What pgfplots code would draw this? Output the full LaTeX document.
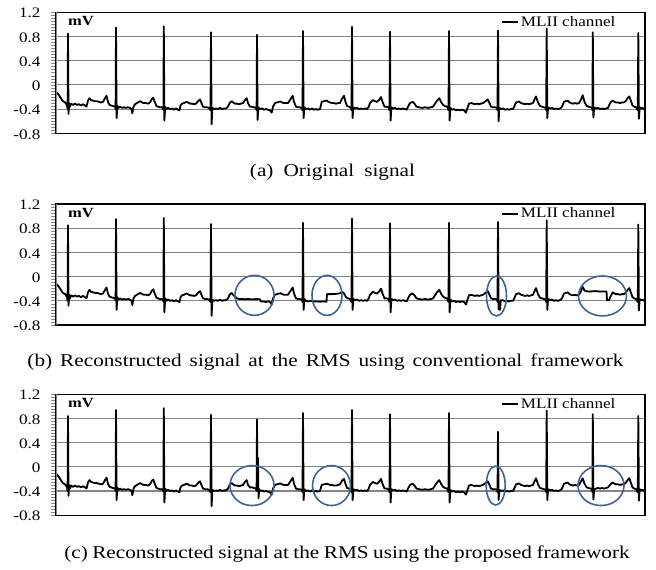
\documentclass[border=0pt]{standalone}
\usepackage{fontspec}
\setmainfont{Liberation Serif}[FakeStretch=1.18]
\usepackage{pgfplots}
\usepackage{pgfplotstable}
\pgfplotsset{compat=1.18}
\definecolor{ellc}{HTML}{3F6393}
\definecolor{gridc}{HTML}{858585}

% (a) original signal
\pgfplotstableread[row sep=\\]{
x y\\
56 -0.12\\ 57 -0.13\\ 58 -0.15\\ 59 -0.17\\ 60 -0.20\\ 61 -0.22\\ 62 -0.25\\ 63 -0.27\\ 64 -0.28\\ 65 -0.29\\ 66 -0.31\\ 67 -0.34\\ 67.6 -0.40\\
68 0.85\\ 68.5 -0.48\\ 69.2 -0.30\\ 70 -0.36\\ 71 -0.31\\ 73 -0.33\\ 75 -0.31\\ 77 -0.33\\ 79 -0.32\\ 81 -0.34\\ 83 -0.32\\ 85 -0.34\\ 86.5 -0.36\\ 88 -0.26\\ 89.5 -0.22\\ 91 -0.25\\ 93 -0.26\\ 95 -0.27\\ 97 -0.27\\ 99 -0.28\\ 101 -0.29\\ 103 -0.28\\ 105 -0.22\\ 106.5 -0.18\\ 108 -0.28\\ 109.5 -0.33\\ 111 -0.34\\ 113 -0.35\\ 115 -0.36\\ 115.6 -0.40\\
116 0.95\\ 116.6 -0.55\\ 117.3 -0.34\\ 118.5 -0.38\\ 120 -0.36\\ 122 -0.38\\ 124 -0.37\\ 126 -0.38\\ 128 -0.37\\ 130 -0.38\\ 131.5 -0.40\\ 132.3 -0.47\\ 133.5 -0.36\\ 135 -0.32\\ 137 -0.30\\ 139 -0.28\\ 140.5 -0.27\\ 142 -0.29\\ 144 -0.30\\ 146 -0.30\\ 148 -0.31\\ 150 -0.29\\ 152 -0.23\\ 153.3 -0.21\\ 154.5 -0.27\\ 156.5 -0.35\\ 158 -0.36\\ 160 -0.37\\ 162 -0.37\\ 163.4 -0.41\\
163.8 0.97\\ 164.4 -0.59\\ 165.2 -0.36\\ 166.5 -0.40\\ 168 -0.38\\ 170 -0.40\\ 172 -0.39\\ 174 -0.41\\ 176 -0.39\\ 178 -0.41\\ 179.5 -0.42\\ 180.5 -0.34\\ 182 -0.31\\ 184 -0.30\\ 186.5 -0.28\\ 188 -0.29\\ 190 -0.31\\ 192 -0.31\\ 194 -0.32\\ 196 -0.31\\ 198 -0.27\\ 200 -0.24\\ 201.5 -0.30\\ 203 -0.36\\ 205 -0.37\\ 207 -0.37\\ 209 -0.38\\ 210.5 -0.42\\
211 0.87\\ 211.6 -0.65\\ 212.4 -0.38\\ 214 -0.40\\ 216 -0.39\\ 218 -0.40\\ 220 -0.38\\ 222 -0.40\\ 224 -0.39\\ 226 -0.39\\ 228 -0.36\\ 230 -0.29\\ 231.7 -0.27\\ 233 -0.29\\ 235 -0.31\\ 237 -0.31\\ 239 -0.32\\ 241 -0.31\\ 243 -0.30\\ 245 -0.25\\ 246.7 -0.22\\ 248 -0.30\\ 250 -0.36\\ 252 -0.36\\ 254 -0.37\\ 256 -0.38\\ 256.6 -0.42\\
257 0.83\\ 257.6 -0.58\\ 258.4 -0.37\\ 260 -0.40\\ 262 -0.39\\ 264 -0.41\\ 266 -0.40\\ 268 -0.41\\ 270 -0.42\\ 271.7 -0.46\\ 273 -0.36\\ 275 -0.30\\ 277 -0.29\\ 279 -0.28\\ 280.5 -0.275\\ 282 -0.29\\ 284 -0.30\\ 286 -0.30\\ 288 -0.30\\ 290 -0.25\\ 292.7 -0.18\\ 294 -0.28\\ 296 -0.36\\ 298 -0.37\\ 300 -0.37\\ 302 -0.39\\ 302.5 -0.42\\
303 0.89\\ 303.6 -0.55\\ 304.4 -0.37\\ 306 -0.40\\ 308 -0.39\\ 310 -0.41\\ 312 -0.39\\ 314 -0.41\\ 316 -0.40\\ 318 -0.41\\ 320 -0.40\\ 321.7 -0.28\\ 324 -0.27\\ 326.7 -0.26\\ 328.5 -0.28\\ 330 -0.29\\ 332 -0.30\\ 334 -0.30\\ 336 -0.31\\ 338 -0.30\\ 340 -0.30\\ 342 -0.23\\ 344 -0.18\\ 345.5 -0.28\\ 347 -0.35\\ 349 -0.36\\ 351 -0.38\\ 351.5 -0.42\\
352 0.96\\ 352.6 -0.55\\ 353.4 -0.37\\ 355 -0.39\\ 357 -0.38\\ 359 -0.40\\ 361 -0.39\\ 363 -0.40\\ 365 -0.39\\ 367 -0.40\\ 368.5 -0.37\\ 370 -0.30\\ 373 -0.25\\ 375 -0.27\\ 377 -0.28\\ 379 -0.25\\ 381 -0.20\\ 382.5 -0.28\\ 384.5 -0.36\\ 386.5 -0.36\\ 388.5 -0.37\\ 389.5 -0.42\\
390 0.88\\ 390.6 -0.59\\ 391.4 -0.37\\ 393 -0.39\\ 395 -0.38\\ 397 -0.40\\ 399 -0.39\\ 401 -0.40\\ 403 -0.39\\ 405 -0.40\\ 406.7 -0.41\\ 408 -0.36\\ 410 -0.30\\ 412.7 -0.28\\ 414.5 -0.31\\ 416.5 -0.36\\ 419 -0.37\\ 422 -0.38\\ 425 -0.37\\ 428 -0.38\\ 431 -0.37\\ 433 -0.36\\ 435 -0.31\\ 437 -0.26\\ 439.3 -0.22\\ 441 -0.28\\ 443 -0.33\\ 445 -0.35\\ 447 -0.36\\ 448.5 -0.42\\
449 0.89\\ 449.6 -0.59\\ 450.4 -0.38\\ 452 -0.41\\ 454 -0.40\\ 456 -0.42\\ 458 -0.41\\ 460 -0.42\\ 462 -0.41\\ 464 -0.42\\ 466 -0.46\\ 467.5 -0.38\\ 469 -0.31\\ 471 -0.30\\ 473 -0.31\\ 475 -0.32\\ 477 -0.31\\ 479 -0.32\\ 481 -0.31\\ 483 -0.30\\ 485.5 -0.27\\ 487.7 -0.24\\ 489.5 -0.30\\ 491 -0.36\\ 493 -0.37\\ 495 -0.37\\ 497 -0.38\\ 497.5 -0.42\\
498 0.90\\ 498.6 -0.60\\ 499.4 -0.38\\ 501 -0.40\\ 503 -0.39\\ 505 -0.41\\ 507 -0.40\\ 509 -0.41\\ 511 -0.40\\ 513 -0.40\\ 514.5 -0.35\\ 516 -0.29\\ 519 -0.275\\ 521 -0.30\\ 523 -0.31\\ 525 -0.32\\ 527 -0.31\\ 529 -0.32\\ 531 -0.31\\ 533 -0.30\\ 534.5 -0.24\\ 536 -0.19\\ 538 -0.29\\ 540 -0.35\\ 542 -0.36\\ 544 -0.37\\ 545.5 -0.38\\ 546.2 -0.42\\
546.7 0.93\\ 547.3 -0.55\\ 548.1 -0.37\\ 550 -0.39\\ 552 -0.38\\ 554 -0.40\\ 556 -0.39\\ 558 -0.40\\ 560 -0.39\\ 562 -0.36\\ 564 -0.28\\ 567.7 -0.26\\ 569.5 -0.29\\ 571 -0.30\\ 573 -0.31\\ 575 -0.30\\ 577 -0.31\\ 579 -0.30\\ 581 -0.24\\ 582.7 -0.17\\ 584.5 -0.28\\ 586.7 -0.35\\ 588.5 -0.36\\ 590.5 -0.37\\ 592 -0.38\\ 592.4 -0.42\\
592.8 0.87\\ 593.4 -0.54\\ 594.2 -0.37\\ 596 -0.39\\ 598 -0.38\\ 600 -0.40\\ 602 -0.39\\ 604 -0.40\\ 606 -0.39\\ 608 -0.38\\ 609.5 -0.32\\ 611 -0.28\\ 612.7 -0.26\\ 614.5 -0.28\\ 616 -0.29\\ 618 -0.29\\ 620 -0.30\\ 622 -0.29\\ 624 -0.29\\ 626 -0.26\\ 628 -0.21\\ 629.3 -0.19\\ 631 -0.27\\ 632.5 -0.34\\ 634.3 -0.36\\ 636 -0.37\\ 637.8 -0.42\\
638.3 0.86\\ 638.9 -0.56\\ 639.7 -0.37\\ 641 -0.39\\ 642.5 -0.38\\ 644 -0.40\\ 645 -0.39\\
}\sigA

% (b) conventional framework
\pgfplotstableread[row sep=\\]{
x y\\
56 -0.12\\ 57 -0.13\\ 58 -0.15\\ 59 -0.17\\ 60 -0.20\\ 61 -0.22\\ 62 -0.25\\ 63 -0.27\\ 64 -0.28\\ 65 -0.29\\ 66 -0.31\\ 67 -0.34\\ 67.6 -0.40\\
68 0.85\\ 68.5 -0.48\\ 69.2 -0.30\\ 70 -0.36\\ 71 -0.31\\ 73 -0.33\\ 75 -0.31\\ 77 -0.33\\ 79 -0.32\\ 81 -0.34\\ 83 -0.32\\ 85 -0.34\\ 86.5 -0.36\\ 88 -0.26\\ 89.5 -0.22\\ 91 -0.25\\ 93 -0.26\\ 95 -0.27\\ 97 -0.27\\ 99 -0.28\\ 101 -0.29\\ 103 -0.28\\ 105 -0.22\\ 106.5 -0.18\\ 108 -0.28\\ 109.5 -0.33\\ 111 -0.34\\ 113 -0.35\\ 115 -0.36\\ 115.6 -0.40\\
116 0.95\\ 116.6 -0.55\\ 117.3 -0.34\\ 118.5 -0.38\\ 120 -0.36\\ 122 -0.38\\ 124 -0.37\\ 126 -0.38\\ 128 -0.37\\ 130 -0.38\\ 131.5 -0.40\\ 132.3 -0.47\\ 133.5 -0.36\\ 135 -0.32\\ 137 -0.30\\ 139 -0.28\\ 140.5 -0.27\\ 142 -0.29\\ 144 -0.30\\ 146 -0.30\\ 148 -0.31\\ 150 -0.29\\ 152 -0.23\\ 153.3 -0.21\\ 154.5 -0.27\\ 156.5 -0.35\\ 158 -0.36\\ 160 -0.37\\ 162 -0.37\\ 163.4 -0.41\\
163.8 0.97\\ 164.4 -0.59\\ 165.2 -0.36\\ 166.5 -0.40\\ 168 -0.38\\ 170 -0.40\\ 172 -0.39\\ 174 -0.41\\ 176 -0.39\\ 178 -0.41\\ 179.5 -0.42\\ 180.5 -0.34\\ 182 -0.31\\ 184 -0.30\\ 186.5 -0.28\\ 188 -0.29\\ 190 -0.31\\ 192 -0.31\\ 194 -0.32\\ 196 -0.31\\ 198 -0.27\\ 200 -0.24\\ 201.5 -0.30\\ 203 -0.36\\ 205 -0.37\\ 207 -0.37\\ 209 -0.38\\ 210.5 -0.42\\
211 0.87\\ 211.6 -0.65\\ 212.4 -0.38\\ 214 -0.40\\ 216 -0.39\\ 218 -0.40\\ 220 -0.38\\ 222 -0.40\\ 224 -0.39\\ 226 -0.39\\ 228 -0.36\\ 230 -0.29\\ 231.7 -0.27\\ 233 -0.30\\ 235 -0.33\\ 237 -0.36\\ 239 -0.37\\ 242 -0.37\\ 245 -0.375\\ 248 -0.37\\ 251 -0.375\\ 254 -0.375\\ 257 -0.37\\ 260 -0.375\\ 260.6 -0.41\\ 263 -0.41\\ 266 -0.42\\ 268 -0.41\\ 270 -0.42\\ 271.7 -0.46\\ 273 -0.36\\ 275 -0.30\\ 277 -0.29\\ 279 -0.28\\ 280.5 -0.275\\ 282 -0.29\\ 284 -0.30\\ 286 -0.30\\ 288 -0.30\\ 290 -0.25\\ 292.7 -0.18\\ 294 -0.28\\ 296 -0.36\\ 298 -0.37\\ 300 -0.37\\ 302 -0.39\\ 302.5 -0.42\\
303 0.89\\ 303.6 -0.55\\ 304.4 -0.37\\ 306 -0.40\\ 308 -0.41\\ 311 -0.40\\ 314 -0.41\\ 317 -0.41\\ 320 -0.415\\ 323 -0.41\\ 326.5 -0.415\\ 327 -0.29\\ 330 -0.29\\ 333 -0.29\\ 336 -0.285\\ 339 -0.28\\ 341 -0.265\\ 343 -0.26\\ 344.5 -0.29\\ 346 -0.34\\ 348 -0.36\\ 350 -0.37\\ 351.5 -0.42\\
352 0.96\\ 352.6 -0.55\\ 353.4 -0.37\\ 355 -0.39\\ 357 -0.38\\ 359 -0.40\\ 361 -0.39\\ 363 -0.40\\ 365 -0.39\\ 367 -0.40\\ 368.5 -0.37\\ 370 -0.30\\ 373 -0.25\\ 375 -0.27\\ 377 -0.28\\ 379 -0.25\\ 381 -0.20\\ 382.5 -0.28\\ 384.5 -0.36\\ 386.5 -0.36\\ 388.5 -0.37\\ 389.5 -0.42\\
390 0.88\\ 390.6 -0.59\\ 391.4 -0.37\\ 393 -0.39\\ 395 -0.38\\ 397 -0.40\\ 399 -0.39\\ 401 -0.40\\ 403 -0.39\\ 405 -0.40\\ 406.7 -0.41\\ 408 -0.36\\ 410 -0.30\\ 412.7 -0.28\\ 414.5 -0.31\\ 416.5 -0.36\\ 419 -0.37\\ 422 -0.38\\ 425 -0.37\\ 428 -0.38\\ 431 -0.37\\ 433 -0.36\\ 435 -0.31\\ 437 -0.26\\ 439.3 -0.22\\ 441 -0.28\\ 443 -0.33\\ 445 -0.35\\ 447 -0.36\\ 448.5 -0.42\\
449 0.89\\ 449.6 -0.59\\ 450.4 -0.38\\ 452 -0.41\\ 454 -0.40\\ 456 -0.42\\ 458 -0.41\\ 460 -0.42\\ 462 -0.41\\ 464 -0.42\\ 466 -0.46\\ 467.5 -0.38\\ 469 -0.31\\ 471 -0.30\\ 473 -0.31\\ 475 -0.32\\ 477 -0.31\\ 479 -0.32\\ 481 -0.31\\ 483 -0.30\\ 485.5 -0.27\\ 487.7 -0.24\\ 489.5 -0.30\\ 491 -0.36\\ 493 -0.37\\ 495 -0.37\\ 497 -0.38\\ 497.5 -0.42\\
498 0.90\\ 498.6 -0.54\\ 499.3 -0.42\\ 500 -0.55\\ 500.8 -0.39\\ 503 -0.39\\ 505 -0.41\\ 507 -0.40\\ 509 -0.41\\ 511 -0.40\\ 513 -0.40\\ 514.5 -0.35\\ 516 -0.29\\ 519 -0.275\\ 521 -0.30\\ 523 -0.31\\ 525 -0.32\\ 527 -0.31\\ 529 -0.32\\ 531 -0.31\\ 533 -0.30\\ 534.5 -0.24\\ 536 -0.19\\ 538 -0.29\\ 540 -0.35\\ 542 -0.36\\ 544 -0.37\\ 545.5 -0.38\\ 546.2 -0.42\\
546.7 0.93\\ 547.3 -0.55\\ 548.1 -0.37\\ 550 -0.39\\ 552 -0.38\\ 554 -0.40\\ 556 -0.39\\ 558 -0.40\\ 560 -0.39\\ 562 -0.36\\ 564 -0.28\\ 567.7 -0.26\\ 569.5 -0.29\\ 571 -0.30\\ 573 -0.31\\ 575 -0.30\\ 577 -0.31\\ 579 -0.30\\ 581 -0.24\\ 582.7 -0.17\\ 584.5 -0.23\\ 587 -0.245\\ 591 -0.245\\ 595 -0.24\\ 599 -0.245\\ 603 -0.245\\ 606.5 -0.245\\ 607 -0.39\\ 609 -0.39\\ 610.5 -0.33\\ 612.7 -0.26\\ 614.5 -0.28\\ 616 -0.29\\ 618 -0.29\\ 620 -0.30\\ 622 -0.29\\ 624 -0.29\\ 626 -0.26\\ 628 -0.21\\ 629.3 -0.19\\ 631 -0.27\\ 632.5 -0.34\\ 634.3 -0.36\\ 636 -0.37\\ 637.8 -0.42\\
638.3 0.86\\ 638.9 -0.56\\ 639.7 -0.37\\ 641 -0.39\\ 642.5 -0.38\\ 644 -0.40\\ 645 -0.39\\
}\sigB

% (c) proposed framework
\pgfplotstableread[row sep=\\]{
x y\\
56 -0.12\\ 57 -0.13\\ 58 -0.15\\ 59 -0.17\\ 60 -0.20\\ 61 -0.22\\ 62 -0.25\\ 63 -0.27\\ 64 -0.28\\ 65 -0.29\\ 66 -0.31\\ 67 -0.34\\ 67.6 -0.40\\
68 0.84\\ 68.5 -0.48\\ 69.2 -0.30\\ 70 -0.36\\ 71 -0.31\\ 73 -0.33\\ 75 -0.31\\ 77 -0.33\\ 79 -0.32\\ 81 -0.34\\ 83 -0.32\\ 85 -0.34\\ 86.5 -0.36\\ 88 -0.26\\ 89.5 -0.22\\ 91 -0.25\\ 93 -0.26\\ 95 -0.27\\ 97 -0.27\\ 99 -0.28\\ 101 -0.29\\ 103 -0.28\\ 105 -0.22\\ 106.5 -0.18\\ 108 -0.28\\ 109.5 -0.33\\ 111 -0.34\\ 113 -0.35\\ 115 -0.36\\ 115.6 -0.40\\
116 0.94\\ 116.6 -0.55\\ 117.3 -0.34\\ 118.5 -0.38\\ 120 -0.36\\ 122 -0.38\\ 124 -0.37\\ 126 -0.38\\ 128 -0.37\\ 130 -0.38\\ 131.5 -0.40\\ 132.3 -0.47\\ 133.5 -0.36\\ 135 -0.32\\ 137 -0.30\\ 139 -0.28\\ 140.5 -0.27\\ 142 -0.29\\ 144 -0.30\\ 146 -0.30\\ 148 -0.31\\ 150 -0.29\\ 152 -0.23\\ 153.3 -0.21\\ 154.5 -0.27\\ 156.5 -0.35\\ 158 -0.36\\ 160 -0.37\\ 162 -0.37\\ 163.4 -0.41\\
163.8 0.97\\ 164.4 -0.59\\ 165.2 -0.36\\ 166.5 -0.40\\ 168 -0.38\\ 170 -0.40\\ 172 -0.39\\ 174 -0.41\\ 176 -0.39\\ 178 -0.41\\ 179.5 -0.42\\ 180.5 -0.34\\ 182 -0.31\\ 184 -0.30\\ 186.5 -0.28\\ 188 -0.29\\ 190 -0.31\\ 192 -0.31\\ 194 -0.32\\ 196 -0.31\\ 198 -0.27\\ 200 -0.24\\ 201.5 -0.30\\ 203 -0.36\\ 205 -0.37\\ 207 -0.37\\ 209 -0.38\\ 210.5 -0.42\\
211 0.86\\ 211.6 -0.65\\ 212.4 -0.38\\ 214 -0.40\\ 216 -0.39\\ 218 -0.40\\ 220 -0.38\\ 222 -0.40\\ 224 -0.39\\ 226 -0.39\\ 228 -0.36\\ 230 -0.29\\ 231.7 -0.27\\ 233 -0.29\\ 235 -0.31\\ 237 -0.31\\ 239 -0.32\\ 241 -0.31\\ 243 -0.30\\ 245 -0.25\\ 246.7 -0.22\\ 248 -0.30\\ 250 -0.34\\ 252 -0.34\\ 254 -0.35\\ 256 -0.36\\ 256.6 -0.40\\
257 0.78\\ 257.5 -0.38\\ 257.9 0.15\\ 258.5 -0.52\\ 259.3 -0.37\\ 260 -0.40\\ 262 -0.39\\ 264 -0.41\\ 266 -0.40\\ 268 -0.41\\ 270 -0.42\\ 271.7 -0.46\\ 273 -0.36\\ 275 -0.30\\ 277 -0.29\\ 279 -0.28\\ 280.5 -0.275\\ 282 -0.29\\ 284 -0.30\\ 286 -0.30\\ 288 -0.30\\ 290 -0.25\\ 292.7 -0.18\\ 294 -0.28\\ 296 -0.36\\ 298 -0.37\\ 300 -0.37\\ 302 -0.39\\ 302.5 -0.42\\
303 0.89\\ 303.6 -0.55\\ 304.4 -0.37\\ 306 -0.40\\ 308 -0.39\\ 310 -0.41\\ 312 -0.39\\ 314 -0.41\\ 316 -0.40\\ 318 -0.41\\ 320 -0.40\\ 321.7 -0.30\\ 324 -0.29\\ 326.7 -0.28\\ 328.5 -0.29\\ 330 -0.30\\ 332 -0.30\\ 334 -0.31\\ 336 -0.31\\ 338 -0.30\\ 340 -0.29\\ 342 -0.23\\ 344 -0.20\\ 345.5 -0.28\\ 347 -0.35\\ 349 -0.36\\ 351 -0.38\\ 351.5 -0.42\\
352 0.94\\ 352.6 -0.55\\ 353.4 -0.37\\ 355 -0.39\\ 357 -0.38\\ 359 -0.40\\ 361 -0.39\\ 363 -0.40\\ 365 -0.39\\ 367 -0.40\\ 368.5 -0.37\\ 370 -0.30\\ 373 -0.25\\ 375 -0.27\\ 377 -0.28\\ 379 -0.25\\ 381 -0.20\\ 382.5 -0.28\\ 384.5 -0.36\\ 386.5 -0.36\\ 388.5 -0.37\\ 389.5 -0.42\\
390 0.87\\ 390.6 -0.59\\ 391.4 -0.37\\ 393 -0.39\\ 395 -0.38\\ 397 -0.40\\ 399 -0.39\\ 401 -0.40\\ 403 -0.39\\ 405 -0.40\\ 406.7 -0.41\\ 408 -0.36\\ 410 -0.30\\ 412.7 -0.28\\ 414.5 -0.31\\ 416.5 -0.36\\ 419 -0.37\\ 422 -0.38\\ 425 -0.37\\ 428 -0.38\\ 431 -0.37\\ 433 -0.36\\ 435 -0.31\\ 437 -0.26\\ 439.3 -0.22\\ 441 -0.28\\ 443 -0.33\\ 445 -0.35\\ 447 -0.36\\ 448.5 -0.42\\
449 0.89\\ 449.6 -0.59\\ 450.4 -0.38\\ 452 -0.41\\ 454 -0.40\\ 456 -0.42\\ 458 -0.41\\ 460 -0.42\\ 462 -0.41\\ 464 -0.42\\ 466 -0.46\\ 467.5 -0.38\\ 469 -0.31\\ 471 -0.30\\ 473 -0.31\\ 475 -0.32\\ 477 -0.31\\ 479 -0.32\\ 481 -0.31\\ 483 -0.30\\ 485.5 -0.27\\ 487.7 -0.24\\ 489.5 -0.30\\ 491 -0.36\\ 493 -0.37\\ 495 -0.37\\ 497 -0.38\\ 497.5 -0.42\\
498 0.58\\ 498.6 -0.55\\ 499.4 -0.38\\ 501 -0.40\\ 503 -0.39\\ 505 -0.41\\ 507 -0.40\\ 509 -0.41\\ 511 -0.40\\ 513 -0.40\\ 514.5 -0.35\\ 516 -0.29\\ 519 -0.275\\ 521 -0.30\\ 523 -0.31\\ 525 -0.32\\ 527 -0.31\\ 529 -0.32\\ 531 -0.31\\ 533 -0.30\\ 534.5 -0.24\\ 536 -0.19\\ 538 -0.29\\ 540 -0.35\\ 542 -0.36\\ 544 -0.37\\ 545.5 -0.38\\ 546.2 -0.42\\
546.7 0.93\\ 547.3 -0.55\\ 548.1 -0.37\\ 550 -0.39\\ 552 -0.38\\ 554 -0.40\\ 556 -0.39\\ 558 -0.40\\ 560 -0.39\\ 562 -0.36\\ 564 -0.28\\ 567.7 -0.26\\ 569.5 -0.29\\ 571 -0.30\\ 573 -0.31\\ 575 -0.30\\ 577 -0.31\\ 579 -0.30\\ 581 -0.24\\ 582.7 -0.19\\ 584.5 -0.28\\ 586.7 -0.34\\ 588.5 -0.35\\ 590.5 -0.36\\ 592 -0.37\\ 592.4 -0.42\\
592.8 0.87\\ 593.4 -0.54\\ 594.2 -0.37\\ 596 -0.36\\ 598 -0.35\\ 600 -0.36\\ 602 -0.35\\ 604 -0.36\\ 606 -0.35\\ 608 -0.34\\ 609.5 -0.31\\ 611 -0.28\\ 612.7 -0.26\\ 614.5 -0.28\\ 616 -0.29\\ 618 -0.29\\ 620 -0.30\\ 622 -0.29\\ 624 -0.29\\ 626 -0.26\\ 628 -0.21\\ 629.3 -0.19\\ 631 -0.27\\ 632.5 -0.34\\ 634.3 -0.36\\ 636 -0.37\\ 637.8 -0.42\\
638.3 0.84\\ 638.9 -0.56\\ 639.7 -0.37\\ 641 -0.39\\ 642.5 -0.38\\ 644 -0.40\\ 645 -0.39\\
}\sigC

\newcommand\tickfont{\fontsize{14.5}{14.5}\selectfont}
\newcommand\capfont{\fontsize{18}{18}\selectfont}
\pgfplotsset{
  ecg/.style={
    scale only axis, width=589pt, height=121pt,
    anchor=south west,
    xmin=56, xmax=645, ymin=-0.8, ymax=1.2,
    xtick=\empty,
    ytick={-0.8,-0.4,0,0.4,0.8,1.2},
    yticklabels={-0.8,-0.4,0,0.4,0.8,1.2},
    minor y tick num=7,
    ytick pos=left,
    ymajorgrids,
    major grid style={gridc, line width=1.1pt},
    tick align=outside,
    major tick length=5pt, minor tick length=5pt,
    tick style={gridc, line width=0.6pt},
    yticklabel style={font=\tickfont, anchor=east, xshift=-7pt, yshift=-1pt},
    axis line style={black, line width=1.2pt},
    clip=false,
    legend style={draw=none, fill=none, at={(axis cs:501,1.04)}, anchor=west,
      font=\tickfont, inner sep=0pt},
    legend image code/.code={\draw[line width=1.7pt, black] (0pt,0pt) -- (16pt,0pt);},
  },
  sig/.style={black, line width=1.8pt, line join=round, no markers},
}

\begin{document}
\begin{tikzpicture}
\path (0pt,0pt) rectangle (656pt,570pt);

% panel (a)
\begin{axis}[ecg, at={(56pt,436.7pt)}]
\addplot[sig] table[x=x, y=y] {\sigA};
\addlegendentry{MLII channel}
\draw[gridc, line width=1pt] (rel axis cs:0,0) -- (rel axis cs:0,1);
\node[anchor=base west, inner sep=0pt, font=\bfseries\fontsize{14}{14}\selectfont] at (axis cs:68,0.985) {mV};
\end{axis}
\node[anchor=base, font=\capfont] at (332.5pt,393.3pt) {\spaceskip=10pt\relax (a) Original signal};

% panel (b)
\begin{axis}[ecg, at={(56pt,245pt)}]
\addplot[sig] table[x=x, y=y] {\sigB};
\addlegendentry{MLII channel}
\draw[gridc, line width=1pt] (rel axis cs:0,0) -- (rel axis cs:0,1);
\node[anchor=base west, inner sep=0pt, font=\bfseries\fontsize{14}{14}\selectfont] at (axis cs:68,0.985) {mV};
\draw[ellc, line width=1.6pt] (axis cs:254.5,-0.31) ellipse [x radius=19.5pt, y radius=20pt];
\draw[ellc, line width=1.6pt] (axis cs:327,-0.31) ellipse [x radius=15pt, y radius=20pt];
\draw[ellc, line width=1.6pt] (axis cs:496.5,-0.32) ellipse [x radius=10pt, y radius=20pt];
\draw[ellc, line width=1.6pt] (axis cs:602.5,-0.32) ellipse [x radius=24pt, y radius=20pt];
\end{axis}
\node[anchor=base, font=\capfont] at (325.5pt,203.2pt) {\spaceskip=8pt\relax (b) Reconstructed signal at the RMS using conventional framework};

% panel (c)
\begin{axis}[ecg, at={(56pt,54.8pt)}]
\addplot[sig] table[x=x, y=y] {\sigC};
\addlegendentry{MLII channel}
\draw[gridc, line width=1pt] (rel axis cs:0,0) -- (rel axis cs:0,1);
\node[anchor=base west, inner sep=0pt, font=\bfseries\fontsize{14}{14}\selectfont] at (axis cs:68,0.985) {mV};
\draw[ellc, line width=1.6pt] (axis cs:252,-0.31) ellipse [x radius=22pt, y radius=20pt];
\draw[ellc, line width=1.6pt] (axis cs:331.5,-0.31) ellipse [x radius=19pt, y radius=20pt];
\draw[ellc, line width=1.6pt] (axis cs:495.7,-0.31) ellipse [x radius=9.5pt, y radius=19.5pt];
\draw[ellc, line width=1.6pt] (axis cs:601,-0.31) ellipse [x radius=23pt, y radius=20pt];
\end{axis}
\node[anchor=base, font=\capfont] at (347pt,11.4pt) {\spaceskip=4.5pt\relax (c) Reconstructed signal at the RMS using the proposed framework};
\end{tikzpicture}
\end{document}
